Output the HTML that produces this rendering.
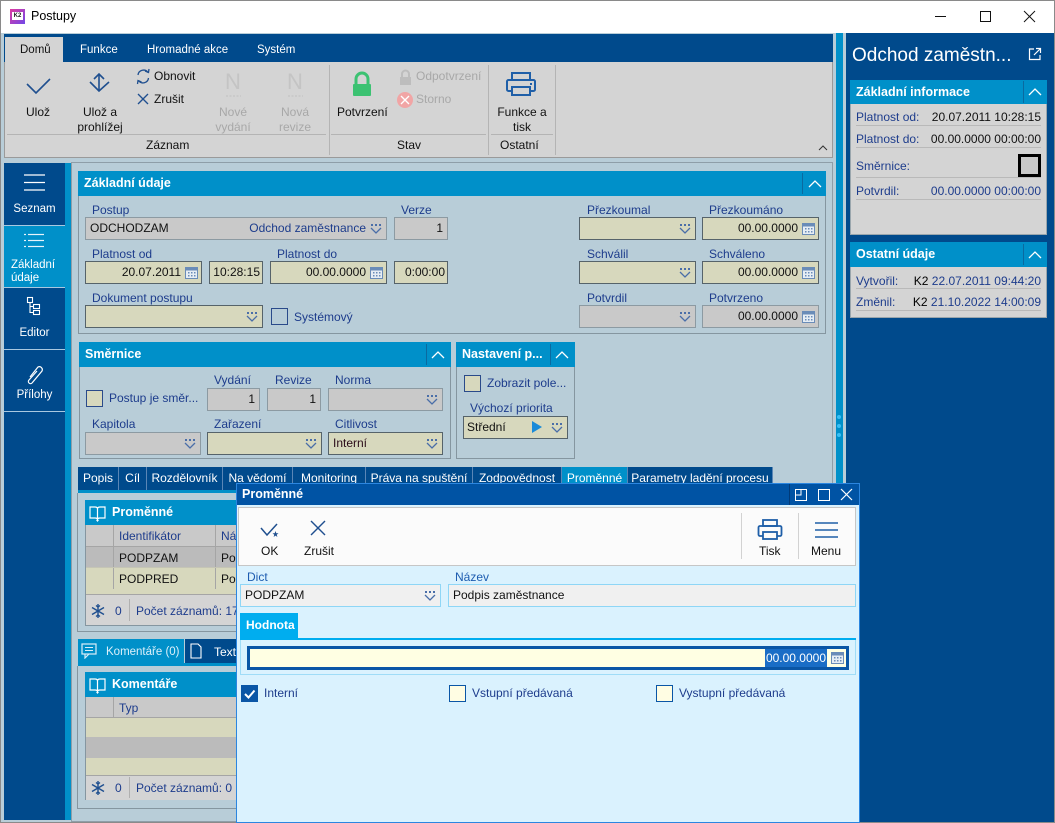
<!DOCTYPE html>
<html><head><meta charset="utf-8">
<style>
*{box-sizing:border-box}
body{margin:0;width:1055px;height:823px;overflow:hidden;position:relative;background:#b8cdd8;font-family:"Liberation Sans","DejaVu Sans",sans-serif;font-size:12px;color:#111}
.a{position:absolute}
.t{position:absolute;line-height:16px;white-space:nowrap}
.lb{color:#1d3c8c}
.w{color:#fff}
.f{position:absolute;height:23px;line-height:21px;border:1px solid #56636a;padding:0 4px;white-space:nowrap;overflow:hidden}
.be{background:#d7d8bd}
.gr{background:#c9c9c9;border-color:#8c9aa2}
.r{text-align:right}
.hd{position:absolute;background:#0090c9;color:#fff;font-weight:bold;font-size:12.5px;line-height:25px;height:25px;padding-left:6px;white-space:nowrap;overflow:hidden}
.box{position:absolute;border:1px solid #8596a0}
.ic{position:absolute}
.dd{position:absolute;right:4px;top:6px}
.cal{position:absolute;right:3px;top:4px}
.cb{position:absolute;width:17px;height:17px;border:1px solid #2a4a8a;background:#d7d8bd}
.tab{position:absolute;top:467px;height:23px;line-height:23px;background:#004a8c;color:#fff;text-align:center;border-right:1px solid #5a86b6;white-space:nowrap;overflow:hidden}
</style></head><body>
<svg width="0" height="0" style="position:absolute">
<defs>
<symbol id="dd" viewBox="0 0 12 10"><rect x="1" y="0" width="2" height="2" fill="#4a6ea8"/><rect x="5" y="0" width="2" height="2" fill="#4a6ea8"/><rect x="9" y="0" width="2" height="2" fill="#4a6ea8"/><polyline points="1,4 6,9 11,4" fill="none" stroke="#4a6ea8" stroke-width="1.3"/></symbol>
<symbol id="cal" viewBox="0 0 13 13"><rect x="0.5" y="1.5" width="12" height="11" fill="#e6edf4" stroke="#6a8cb8"/><rect x="0.5" y="1.5" width="12" height="3" fill="#6a8cb8"/><g fill="#6a8cb8"><rect x="3" y="6" width="1.5" height="1.5"/><rect x="6" y="6" width="1.5" height="1.5"/><rect x="9" y="6" width="1.5" height="1.5"/><rect x="3" y="9" width="1.5" height="1.5"/><rect x="6" y="9" width="1.5" height="1.5"/><rect x="9" y="9" width="1.5" height="1.5"/></g></symbol>
<symbol id="up" viewBox="0 0 14 8"><polyline points="1,7 7,1 13,7" fill="none" stroke="#fff" stroke-width="1.3"/></symbol>
<symbol id="book" viewBox="0 0 17 17"><path d="M1,2 H6 Q8.5,2 8.5,4 V15 Q8.5,13 6,13 H1 Z M16,2 H11 Q8.5,2 8.5,4 V15 Q8.5,13 11,13 H16 Z" fill="none" stroke="#fff" stroke-width="1.2"/><polygon points="7,15 10,15 8.5,17" fill="#fff"/></symbol>
<symbol id="snow" viewBox="0 0 14 14"><g stroke="#1f4f8f" stroke-width="1.4" fill="none"><line x1="7" y1="0" x2="7" y2="14"/><line x1="1" y1="3.5" x2="13" y2="10.5"/><line x1="1" y1="10.5" x2="13" y2="3.5"/><polyline points="5,1.5 7,3 9,1.5"/><polyline points="5,12.5 7,11 9,12.5"/></g></symbol>
</defs></svg>

<!-- window title bar -->
<div class="a" style="left:0;top:0;width:1055px;height:823px;border:1px solid #8a8a8a"></div>
<div class="a" style="left:1px;top:1px;width:1053px;height:32px;background:#fff"></div>
<div class="a" style="left:10px;top:9px;width:15px;height:15px;background:linear-gradient(135deg,#e03aa0,#7048e8)"></div>
<div class="a" style="left:12px;top:12px;width:11px;height:8px;background:#fff;font-size:6px;line-height:8px;font-weight:bold;text-align:center;color:#222">K2</div>
<div class="t" style="left:31px;top:8px;font-size:12.5px;color:#000">Postupy</div>
<svg class="a" style="left:920px;top:0" width="130" height="33"><line x1="15" y1="16.5" x2="26" y2="16.5" stroke="#111"/><rect x="60.5" y="11.5" width="10" height="10" fill="none" stroke="#111"/><line x1="104" y1="11" x2="115" y2="22" stroke="#111"/><line x1="115" y1="11" x2="104" y2="22" stroke="#111"/></svg>

<!-- right panel + stripe -->
<div class="a" style="left:836px;top:33px;width:7px;height:790px;background:#0090c9"></div>
<div class="a" style="left:846px;top:33px;width:208px;height:789px;background:#004a8c"></div>
<div class="a" style="left:837px;top:415px;width:4px;height:4px;border-radius:2px;background:#3ac0f5"></div>
<div class="a" style="left:837px;top:424px;width:4px;height:4px;border-radius:2px;background:#3ac0f5"></div>
<div class="a" style="left:837px;top:433px;width:4px;height:4px;border-radius:2px;background:#3ac0f5"></div>

<!-- ribbon -->
<div class="a" style="left:4px;top:34px;width:829px;height:28px;background:#004a8c"></div>
<div class="a" style="left:5px;top:37px;width:58px;height:25px;background:#d4d4d4"></div>
<div class="a" style="left:4px;top:62px;width:829px;height:96px;background:#d4d4d4;border:1px solid #9a9a9a;border-top:none"></div>
<div class="t" style="left:20px;top:42px;font-size:11.5px;color:#111">Domů</div>
<div class="t w" style="left:80px;top:42px;font-size:11.5px">Funkce</div>
<div class="t w" style="left:147px;top:42px;font-size:11.5px">Hromadné akce</div>
<div class="t w" style="left:257px;top:42px;font-size:11.5px">Systém</div>
<svg class="a" style="left:0;top:0" width="840" height="160">
<polyline points="27,84 36,93 50,79" fill="none" stroke="#1f4f8f" stroke-width="1.6"/>
<line x1="99" y1="74" x2="99" y2="90" stroke="#1f4f8f" stroke-width="1.6"/><polyline points="94,79 99,74 104,79" fill="none" stroke="#1f4f8f" stroke-width="1.6"/><polyline points="90,82 99,91 109,82" fill="none" stroke="#1f4f8f" stroke-width="1.6"/>
<path d="M138,75 A5.5,5.5 0 0 1 148,72.5" fill="none" stroke="#1f4f8f" stroke-width="1.3"/><polyline points="145,71 148.5,72.5 149,69" fill="none" stroke="#1f4f8f" stroke-width="1.3"/>
<path d="M148.5,78 A5.5,5.5 0 0 1 138.5,80.5" fill="none" stroke="#1f4f8f" stroke-width="1.3"/><polyline points="141.5,82 138,80.5 137.5,84" fill="none" stroke="#1f4f8f" stroke-width="1.3"/>
<line x1="138" y1="94" x2="148" y2="104" stroke="#1f4f8f" stroke-width="1.3"/><line x1="148" y1="94" x2="138" y2="104" stroke="#1f4f8f" stroke-width="1.3"/>
<line x1="226" y1="96" x2="241" y2="96" stroke="#c4c4c4" stroke-width="1.2" stroke-dasharray="2,1.5"/>
<line x1="288" y1="96" x2="303" y2="96" stroke="#c4c4c4" stroke-width="1.2" stroke-dasharray="2,1.5"/>
<path d="M356,84 V79 A6,6 0 0 1 368,79 V84" fill="none" stroke="#3cc272" stroke-width="3"/><rect x="353" y="84" width="18" height="12" rx="1" fill="#3cc272"/>
<path d="M402,77 V74 A3.5,3.5 0 0 1 409,74 V77" fill="none" stroke="#bdbdbd" stroke-width="2"/><rect x="400" y="77" width="11" height="8" fill="#bdbdbd"/>
<circle cx="405" cy="100" r="8" fill="#f1a5a5"/><line x1="401" y1="96" x2="409" y2="104" stroke="#fff" stroke-width="1.3"/><line x1="409" y1="96" x2="401" y2="104" stroke="#fff" stroke-width="1.3"/>
<rect x="512" y="73" width="18" height="7" fill="none" stroke="#1f5fa8" stroke-width="2"/><rect x="507" y="80" width="28" height="11" rx="1.5" fill="none" stroke="#1f5fa8" stroke-width="2"/><rect x="512" y="87" width="18" height="8" fill="#d4d4d4" stroke="#1f5fa8" stroke-width="2"/><rect x="530" y="83" width="2" height="2" fill="#1f5fa8"/>
<line x1="329.5" y1="65" x2="329.5" y2="155" stroke="#b4b4b4"/><line x1="488.5" y1="65" x2="488.5" y2="155" stroke="#b4b4b4"/><line x1="555.5" y1="65" x2="555.5" y2="155" stroke="#b4b4b4"/>
<line x1="7" y1="134.5" x2="326" y2="134.5" stroke="#b4b4b4"/><line x1="331" y1="134.5" x2="486" y2="134.5" stroke="#b4b4b4"/><line x1="491" y1="134.5" x2="553" y2="134.5" stroke="#b4b4b4"/>
<polyline points="819,150 823,146 827,150" fill="none" stroke="#333" stroke-width="1"/>
</svg>
<div class="t" style="left:26px;top:104px">Ulož</div>
<div class="t" style="left:80px;top:104px;width:40px;text-align:center">Ulož a</div>
<div class="t" style="left:75px;top:119px;width:50px;text-align:center">prohlížej</div>
<div class="t" style="left:154px;top:68px">Obnovit</div>
<div class="t" style="left:154px;top:91px">Zrušit</div>
<div class="t" style="left:225px;top:70px;font-size:22px;line-height:24px;color:#c4c4c4">N</div>
<div class="t" style="left:287px;top:70px;font-size:22px;line-height:24px;color:#c4c4c4">N</div>
<div class="t" style="left:213px;top:104px;width:40px;text-align:center;color:#a8a8a8">Nové</div>
<div class="t" style="left:210px;top:119px;width:46px;text-align:center;color:#a8a8a8">vydání</div>
<div class="t" style="left:275px;top:104px;width:40px;text-align:center;color:#a8a8a8">Nová</div>
<div class="t" style="left:275px;top:119px;width:40px;text-align:center;color:#a8a8a8">revize</div>
<div class="t" style="left:337px;top:104px">Potvrzení</div>
<div class="t" style="left:416px;top:68px;color:#a8a8a8">Odpotvrzení</div>
<div class="t" style="left:416px;top:91px;color:#a8a8a8">Storno</div>
<div class="t" style="left:496px;top:104px;width:52px;text-align:center">Funkce a</div>
<div class="t" style="left:496px;top:119px;width:52px;text-align:center">tisk</div>
<div class="t" style="left:146px;top:137px">Záznam</div>
<div class="t" style="left:397px;top:137px">Stav</div>
<div class="t" style="left:500px;top:137px">Ostatní</div>

<!-- left nav -->
<div class="a" style="left:4px;top:163px;width:61px;height:657px;background:#004a8c"></div>
<div class="a" style="left:65px;top:163px;width:6px;height:657px;background:#0090c9"></div>
<div class="a" style="left:4px;top:226px;width:61px;height:61px;background:#0090c9"></div>
<div class="a" style="left:4px;top:225px;width:61px;height:1px;background:#a9c8e0"></div>
<div class="a" style="left:4px;top:287px;width:61px;height:1px;background:#a9c8e0"></div>
<div class="a" style="left:4px;top:349px;width:61px;height:1px;background:#a9c8e0"></div>
<div class="a" style="left:4px;top:411px;width:61px;height:1px;background:#a9c8e0"></div>
<svg class="a" style="left:0;top:160px" width="70" height="260">
<g stroke="#fff" stroke-width="1.3"><line x1="24" y1="15" x2="45" y2="15"/><line x1="24" y1="22.5" x2="45" y2="22.5"/><line x1="24" y1="30" x2="45" y2="30"/></g>
<g stroke="#e8f4fb" stroke-width="1.2"><line x1="24" y1="74.5" x2="26" y2="74.5"/><line x1="28" y1="74.5" x2="44" y2="74.5"/><line x1="24" y1="80.5" x2="26" y2="80.5"/><line x1="28" y1="80.5" x2="44" y2="80.5"/><line x1="24" y1="86.5" x2="26" y2="86.5"/><line x1="28" y1="86.5" x2="44" y2="86.5"/></g>
<g fill="none" stroke="#fff" stroke-width="1.1"><rect x="27.5" y="137.5" width="5" height="5"/><rect x="33.5" y="144.5" width="6" height="4"/><rect x="33.5" y="150.5" width="6" height="4"/><polyline points="30,143 30,152.5 33.5,152.5"/><line x1="30" y1="146.5" x2="33.5" y2="146.5"/></g>
<path d="M30,217 L38,207 A3,3 0 0 1 42,211 L32,223 A2,2 0 0 1 29,220 L37,211" fill="none" stroke="#fff" stroke-width="1.2"/>
</svg>
<div class="t w" style="left:4px;top:201px;width:61px;text-align:center;font-size:11.5px">Seznam</div>
<div class="t w" style="left:11px;top:257px;font-size:11.5px">Základní</div>
<div class="t w" style="left:11px;top:270px;font-size:11.5px">údaje</div>
<div class="t w" style="left:4px;top:325px;width:61px;text-align:center;font-size:11.5px">Editor</div>
<div class="t w" style="left:4px;top:387px;width:61px;text-align:center;font-size:11.5px">Přílohy</div>

<!-- main area -->
<div class="a" style="left:71px;top:162px;width:762px;height:660px;border:1px solid #8e9ea8"></div>

<!-- Section Základní údaje -->
<div class="box" style="left:78px;top:171px;width:748px;height:163px"></div>
<div class="hd" style="left:78px;top:171px;width:748px">Základní údaje</div>
<div class="a" style="left:802px;top:173px;width:1px;height:21px;background:#0a6aa0"></div>
<svg class="ic" style="left:808px;top:180px" width="14" height="8"><use href="#up"/></svg>

<div class="t lb" style="left:92px;top:202px">Postup</div>
<div class="f gr" style="left:85px;top:217px;width:302px">ODCHODZAM<span style="position:absolute;right:20px;color:#1d3c8c">Odchod zaměstnance</span><svg class="dd" width="12" height="10"><use href="#dd"/></svg></div>
<div class="t lb" style="left:401px;top:202px">Verze</div>
<div class="f gr r" style="left:394px;top:217px;width:54px">1</div>

<div class="t lb" style="left:92px;top:246px">Platnost od</div>
<div class="f be r" style="left:85px;top:261px;width:117px;padding-right:20px">20.07.2011<svg class="cal" width="13" height="13"><use href="#cal"/></svg></div>
<div class="f be r" style="left:209px;top:261px;width:54px;padding:0 2px">10:28:15</div>
<div class="t lb" style="left:277px;top:246px">Platnost do</div>
<div class="f be r" style="left:270px;top:261px;width:117px;padding-right:20px">00.00.0000<svg class="cal" width="13" height="13"><use href="#cal"/></svg></div>
<div class="f be r" style="left:394px;top:261px;width:54px;padding:0 2px">0:00:00</div>

<div class="t lb" style="left:92px;top:290px">Dokument postupu</div>
<div class="f be" style="left:85px;top:305px;width:178px"><svg class="dd" width="12" height="10"><use href="#dd"/></svg></div>
<div class="cb" style="left:271px;top:308px;background:transparent"></div>
<div class="t lb" style="left:294px;top:309px">Systémový</div>

<div class="t lb" style="left:587px;top:202px">Přezkoumal</div>
<div class="f be" style="left:579px;top:217px;width:117px"><svg class="dd" width="12" height="10"><use href="#dd"/></svg></div>
<div class="t lb" style="left:709px;top:202px">Přezkoumáno</div>
<div class="f be r" style="left:702px;top:217px;width:117px;padding-right:20px">00.00.0000<svg class="cal" width="13" height="13"><use href="#cal"/></svg></div>
<div class="t lb" style="left:587px;top:246px">Schválil</div>
<div class="f be" style="left:579px;top:261px;width:117px"><svg class="dd" width="12" height="10"><use href="#dd"/></svg></div>
<div class="t lb" style="left:709px;top:246px">Schváleno</div>
<div class="f be r" style="left:702px;top:261px;width:117px;padding-right:20px">00.00.0000<svg class="cal" width="13" height="13"><use href="#cal"/></svg></div>
<div class="t lb" style="left:587px;top:290px">Potvrdil</div>
<div class="f gr" style="left:579px;top:305px;width:117px"><svg class="dd" width="12" height="10"><use href="#dd"/></svg></div>
<div class="t lb" style="left:709px;top:290px">Potvrzeno</div>
<div class="f gr r" style="left:702px;top:305px;width:117px;padding-right:20px">00.00.0000<svg class="cal" width="13" height="13"><use href="#cal"/></svg></div>

<!-- Směrnice -->
<div class="box" style="left:79px;top:342px;width:372px;height:117px"></div>
<div class="hd" style="left:79px;top:342px;width:372px">Směrnice</div>
<div class="a" style="left:426px;top:344px;width:1px;height:21px;background:#0a6aa0"></div>
<svg class="ic" style="left:431px;top:351px" width="14" height="8"><use href="#up"/></svg>
<div class="cb" style="left:86px;top:390px"></div>
<div class="t lb" style="left:109px;top:390px">Postup je směr...</div>
<div class="t lb" style="left:214px;top:372px">Vydání</div>
<div class="f gr r" style="left:207px;top:388px;width:53px">1</div>
<div class="t lb" style="left:275px;top:372px">Revize</div>
<div class="f gr r" style="left:267px;top:388px;width:54px">1</div>
<div class="t lb" style="left:335px;top:372px">Norma</div>
<div class="f gr" style="left:328px;top:388px;width:115px"><svg class="dd" width="12" height="10"><use href="#dd"/></svg></div>
<div class="t lb" style="left:92px;top:416px">Kapitola</div>
<div class="f gr" style="left:85px;top:432px;width:116px"><svg class="dd" width="12" height="10"><use href="#dd"/></svg></div>
<div class="t lb" style="left:214px;top:416px">Zařazení</div>
<div class="f be" style="left:207px;top:432px;width:115px"><svg class="dd" width="12" height="10"><use href="#dd"/></svg></div>
<div class="t lb" style="left:335px;top:416px">Citlivost</div>
<div class="f be" style="left:328px;top:432px;width:115px;color:#2a0a18">Interní<svg class="dd" width="12" height="10"><use href="#dd"/></svg></div>

<!-- Nastavení -->
<div class="box" style="left:456px;top:342px;width:119px;height:117px"></div>
<div class="hd" style="left:456px;top:342px;width:119px">Nastavení p...</div>
<div class="a" style="left:550px;top:344px;width:1px;height:21px;background:#0a6aa0"></div>
<svg class="ic" style="left:555px;top:351px" width="14" height="8"><use href="#up"/></svg>
<div class="cb" style="left:464px;top:375px"></div>
<div class="t lb" style="left:487px;top:375px">Zobrazit pole...</div>
<div class="t lb" style="left:470px;top:400px">Výchozí priorita</div>
<div class="f be" style="left:463px;top:416px;width:105px;padding-left:3px">Střední<svg class="ic" style="left:67px;top:4px" width="12" height="13"><polygon points="1,0 11,6 1,12" fill="#1a8ad8"/></svg><svg class="dd" width="12" height="10"><use href="#dd"/></svg></div>

<!-- Tabs -->
<div class="tab" style="left:78px;width:41px">Popis</div>
<div class="tab" style="left:119px;width:28px">Cíl</div>
<div class="tab" style="left:147px;width:76px">Rozdělovník</div>
<div class="tab" style="left:223px;width:70px">Na vědomí</div>
<div class="tab" style="left:293px;width:73px">Monitoring</div>
<div class="tab" style="left:366px;width:107px">Práva na spuštění</div>
<div class="tab" style="left:473px;width:89px">Zodpovědnost</div>
<div class="tab" style="left:562px;width:66px;background:#0090c9">Proměnné</div>
<div class="tab" style="left:628px;width:145px">Parametry ladění procesu</div>
<div class="a" style="left:78px;top:490px;width:748px;height:3px;background:#0090c9"></div>
<div class="box" style="left:77px;top:493px;width:750px;height:139px;border-top:none"></div>

<!-- Proměnné panel -->
<div class="box" style="left:85px;top:500px;width:735px;height:126px;background:#d7d8bd"></div>
<div class="hd" style="left:85px;top:500px;width:735px;padding-left:27px">Proměnné</div>
<svg class="ic" style="left:89px;top:505px" width="17" height="17"><use href="#book"/></svg>
<div class="a" style="left:86px;top:525px;width:733px;height:22px;background:#c9c9c9"></div>
<div class="a" style="left:86px;top:547px;width:733px;height:21px;background:#bbbbbb"></div>
<div class="a" style="left:86px;top:568px;width:733px;height:21px;background:#d7d8bd"></div>
<div class="a" style="left:113px;top:525px;width:1px;height:64px;background:#a5a5a5"></div>
<div class="a" style="left:215px;top:525px;width:1px;height:64px;background:#a5a5a5"></div>
<div class="a" style="left:86px;top:546px;width:733px;height:1px;background:#a5a5a5"></div>
<div class="a" style="left:86px;top:567px;width:733px;height:1px;background:#c5c5b5"></div>
<div class="t lb" style="left:119px;top:528px">Identifikátor</div>
<div class="t lb" style="left:221px;top:528px">Název</div>
<div class="t" style="left:119px;top:550px">PODPZAM</div>
<div class="t" style="left:221px;top:550px">Podpis zaměstnance</div>
<div class="t" style="left:119px;top:571px">PODPRED</div>
<div class="t" style="left:221px;top:571px">Podpis předsedy</div>
<div class="a" style="left:86px;top:594px;width:733px;height:31px;background:#d4d4d4;border-top:1px solid #a5a5a5"></div>
<svg class="ic" style="left:91px;top:604px" width="14" height="14"><use href="#snow"/></svg>
<div class="t lb" style="left:115px;top:603px">0</div>
<div class="a" style="left:129px;top:599px;width:1px;height:22px;background:#b0b0b0"></div>
<div class="t lb" style="left:136px;top:603px">Počet záznamů: 17</div>

<!-- Komentáře -->
<div class="a" style="left:78px;top:639px;width:106px;height:25px;background:#0090c9"></div>
<svg class="ic" style="left:81px;top:643px" width="17" height="16"><rect x="1" y="1" width="14" height="10" fill="none" stroke="#dbeef8" stroke-width="1.2"/><polyline points="4,11 4,15 8,11" fill="none" stroke="#dbeef8" stroke-width="1.2"/><line x1="4" y1="4.5" x2="12" y2="4.5" stroke="#dbeef8"/><line x1="4" y1="7.5" x2="12" y2="7.5" stroke="#dbeef8"/></svg>
<div class="t" style="left:106px;top:644px;color:#dcf0fa;font-size:11.5px">Komentáře (0)</div>
<div class="a" style="left:185px;top:639px;width:60px;height:25px;background:#004a8c"></div>
<svg class="ic" style="left:190px;top:643px" width="12" height="16"><path d="M1,1 H8 L11,4 V15 H1 Z" fill="none" stroke="#fff" stroke-width="1.1"/></svg>
<div class="t w" style="left:214px;top:644px">Text</div>
<div class="a" style="left:78px;top:663px;width:748px;height:3px;background:#0090c9"></div>
<div class="box" style="left:77px;top:666px;width:750px;height:143px;border-top:none"></div>
<div class="box" style="left:85px;top:672px;width:741px;height:128px;background:#d7d8bd"></div>
<div class="hd" style="left:85px;top:672px;width:741px;padding-left:27px">Komentáře</div>
<svg class="ic" style="left:89px;top:677px" width="17" height="17"><use href="#book"/></svg>
<div class="a" style="left:86px;top:697px;width:739px;height:21px;background:#c9c9c9;border-bottom:1px solid #a5a5a5"></div>
<div class="a" style="left:113px;top:697px;width:1px;height:21px;background:#a5a5a5"></div>
<div class="t lb" style="left:119px;top:700px">Typ</div>
<div class="a" style="left:86px;top:737px;width:739px;height:21px;background:#bbbbbb"></div>
<div class="a" style="left:86px;top:775px;width:739px;height:25px;background:#d4d4d4;border-top:1px solid #a5a5a5"></div>
<svg class="ic" style="left:91px;top:781px" width="14" height="14"><use href="#snow"/></svg>
<div class="t lb" style="left:115px;top:780px">0</div>
<div class="a" style="left:129px;top:777px;width:1px;height:21px;background:#b0b0b0"></div>
<div class="t lb" style="left:136px;top:780px">Počet záznamů: 0</div>

<!-- Right panel content -->
<div class="t w" style="left:852px;top:44px;font-size:19px;line-height:24px">Odchod zaměstn...</div>
<svg class="ic" style="left:1028px;top:47px" width="14" height="14"><path d="M6,2 H1.5 V12.5 H12 V8" fill="none" stroke="#fff" stroke-width="1.2"/><line x1="6" y1="8" x2="12.5" y2="1.5" stroke="#fff" stroke-width="1.2"/><polyline points="8,1.5 12.5,1.5 12.5,6" fill="none" stroke="#fff" stroke-width="1.2"/></svg>
<div class="hd" style="left:850px;top:80px;width:197px;height:24px;line-height:24px">Základní informace</div>
<div class="a" style="left:1023px;top:81px;width:1px;height:22px;background:#0a6aa0"></div>
<svg class="ic" style="left:1028px;top:88px" width="14" height="8"><use href="#up"/></svg>
<div class="a" style="left:850px;top:104px;width:197px;height:131px;background:#d4d4d4;border:1px solid #9aa6ad;border-top:none"></div>
<div class="t lb" style="left:856px;top:109px">Platnost od:</div>
<div class="t r" style="left:900px;top:109px;width:141px">20.07.2011 10:28:15</div>
<div class="a" style="left:856px;top:125px;width:185px;height:1px;background:#b9b9b9"></div>
<div class="t lb" style="left:856px;top:131px">Platnost do:</div>
<div class="t r" style="left:900px;top:131px;width:141px">00.00.0000 00:00:00</div>
<div class="a" style="left:856px;top:147px;width:185px;height:1px;background:#b9b9b9"></div>
<div class="t lb" style="left:856px;top:158px">Směrnice:</div>
<div class="a" style="left:1018px;top:154px;width:23px;height:23px;border:3px solid #000;background:#c8c8c8"></div>
<div class="a" style="left:856px;top:177px;width:185px;height:1px;background:#b9b9b9"></div>
<div class="t lb" style="left:856px;top:183px">Potvrdil:</div>
<div class="t r lb" style="left:900px;top:183px;width:141px">00.00.0000 00:00:00</div>
<div class="a" style="left:856px;top:199px;width:185px;height:1px;background:#b9b9b9"></div>

<div class="hd" style="left:850px;top:242px;width:197px;height:25px">Ostatní údaje</div>
<div class="a" style="left:1023px;top:244px;width:1px;height:21px;background:#0a6aa0"></div>
<svg class="ic" style="left:1028px;top:251px" width="14" height="8"><use href="#up"/></svg>
<div class="a" style="left:850px;top:267px;width:197px;height:51px;background:#d4d4d4;border:1px solid #9aa6ad;border-top:none"></div>
<div class="t lb" style="left:856px;top:273px">Vytvořil:</div>
<div class="t r lb" style="left:900px;top:273px;width:141px"><span style="color:#000">K2</span> 22.07.2011 09:44:20</div>
<div class="a" style="left:856px;top:288px;width:185px;height:1px;background:#b9b9b9"></div>
<div class="t lb" style="left:856px;top:294px">Změnil:</div>
<div class="t r lb" style="left:900px;top:294px;width:141px"><span style="color:#000">K2</span> 21.10.2022 14:00:09</div>
<div class="a" style="left:856px;top:310px;width:185px;height:1px;background:#b9b9b9"></div>

<!-- Dialog -->
<div class="a" style="left:236px;top:483px;width:624px;height:340px;background:#daf2fe;border:1px solid #2b86e0"></div>
<div class="a" style="left:237px;top:484px;width:622px;height:21px;background:#0053a4"></div>
<div class="t w" style="left:242px;top:486px;font-weight:bold;font-size:12.5px">Proměnné</div>
<div class="a" style="left:789px;top:484px;width:1px;height:21px;background:#003a78"></div>
<svg class="ic" style="left:792px;top:484px" width="66" height="21"><rect x="3.5" y="5.5" width="11" height="11" fill="none" stroke="#fff"/><polyline points="3.5,11 9,11 9,5.5" fill="none" stroke="#fff"/><rect x="26.5" y="5.5" width="11" height="11" fill="none" stroke="#fff"/><line x1="49" y1="5" x2="60" y2="16" stroke="#fff" stroke-width="1.2"/><line x1="60" y1="5" x2="49" y2="16" stroke="#fff" stroke-width="1.2"/></svg>
<div class="a" style="left:238px;top:507px;width:618px;height:59px;background:#fbfbfb;border:1px solid #c6c6c6"></div>
<svg class="ic" style="left:258px;top:516px" width="590" height="26">
<polyline points="3,12 9,19 19,8" fill="none" stroke="#1f4f8f" stroke-width="1.5"/><path d="M17.5,15 L18.3,17.3 L20.5,17.3 L18.7,18.7 L19.4,21 L17.5,19.6 L15.6,21 L16.3,18.7 L14.5,17.3 L16.7,17.3 Z" fill="#1f4f8f"/>
<line x1="53" y1="5" x2="67" y2="19" stroke="#1f4f8f" stroke-width="1.4"/><line x1="67" y1="5" x2="53" y2="19" stroke="#1f4f8f" stroke-width="1.4"/>
<rect x="505" y="4" width="14" height="6" fill="none" stroke="#1f5fa8" stroke-width="1.8"/><rect x="500.5" y="10" width="23" height="10" rx="1.5" fill="none" stroke="#1f5fa8" stroke-width="1.8"/><rect x="505" y="16" width="14" height="7" fill="#fbfbfb" stroke="#1f5fa8" stroke-width="1.8"/>
<g stroke="#1f5fa8" stroke-width="1.5"><line x1="557" y1="7" x2="580" y2="7"/><line x1="557" y1="14" x2="580" y2="14"/><line x1="557" y1="21" x2="580" y2="21"/></g>
</svg>
<div class="a" style="left:741px;top:513px;width:1px;height:46px;background:#d2d2d2"></div>
<div class="a" style="left:798px;top:513px;width:1px;height:46px;background:#d2d2d2"></div>
<div class="t" style="left:261px;top:543px">OK</div>
<div class="t" style="left:304px;top:543px">Zrušit</div>
<div class="t" style="left:759px;top:543px">Tisk</div>
<div class="t" style="left:811px;top:543px">Menu</div>

<div class="t" style="left:247px;top:569px;color:#1d5cb0">Dict</div>
<div class="f" style="left:240px;top:584px;width:201px;background:#f0f0f0;border-color:#8ed6f6;line-height:21px">PODPZAM<svg class="dd" width="12" height="10"><use href="#dd"/></svg></div>
<div class="t" style="left:455px;top:569px;color:#1d5cb0">Název</div>
<div class="f" style="left:448px;top:584px;width:408px;background:#f0f0f0;border-color:#8ed6f6">Podpis zaměstnance</div>

<div class="a" style="left:240px;top:613px;width:58px;height:26px;background:#00adef;color:#fff;font-weight:bold;line-height:24px;padding-left:6px">Hodnota</div>
<div class="a" style="left:240px;top:638px;width:616px;height:2px;background:#00adef"></div>
<div class="a" style="left:240px;top:640px;width:616px;height:35px;border:1px solid #9fdcf7;border-top:none"></div>
<div class="a" style="left:247px;top:646px;width:602px;height:24px;background:#ffffe3;border:3px solid #0a56a6"></div>
<div class="a" style="left:765px;top:649px;width:62px;height:18px;background:#1a6dc6;color:#fff;line-height:18px;text-align:right;padding-right:1px">00.00.0000</div>
<svg class="ic" style="left:831px;top:651px" width="13" height="13"><use href="#cal"/></svg>

<div class="a" style="left:241px;top:685px;width:17px;height:17px;background:#0a56a6"></div>
<svg class="ic" style="left:241px;top:685px" width="17" height="17"><polyline points="4,9 7.5,12.5 13.5,5.5" fill="none" stroke="#fff" stroke-width="2"/></svg>
<div class="t lb" style="left:264px;top:685px">Interní</div>
<div class="a" style="left:449px;top:685px;width:17px;height:17px;background:#fffde3;border:1.5px solid #0a56a6"></div>
<div class="t lb" style="left:472px;top:685px">Vstupní předávaná</div>
<div class="a" style="left:656px;top:685px;width:17px;height:17px;background:#fffde3;border:1.5px solid #0a56a6"></div>
<div class="t lb" style="left:679px;top:685px">Vystupní předávaná</div>
</body></html>
